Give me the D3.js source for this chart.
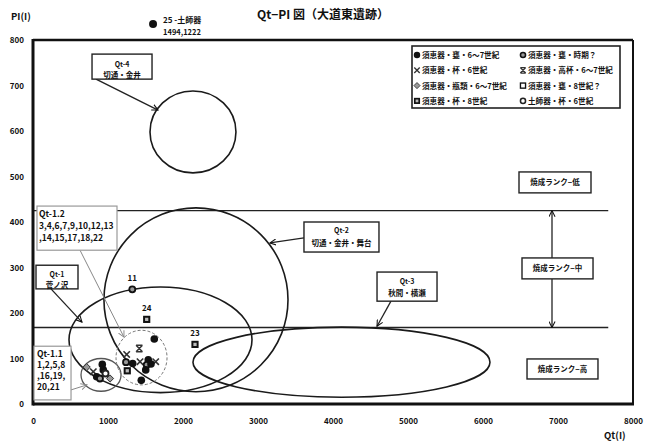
<!DOCTYPE html>
<html><head><meta charset="utf-8">
<script src="https://cdn.jsdelivr.net/npm/d3@7"></script>
<style>
body{margin:0;background:#fff;}
text{font-family:"Noto Sans CJK JP","Noto Sans",sans-serif;font-weight:bold;fill:#111;}
</style></head>
<body><svg id="c" width="647" height="443"></svg>
<script>
// ---- data ----
const xTicks = [0,1000,2000,3000,4000,5000,6000,7000,8000];
const yTicks = [0,100,200,300,400,500,600,700,800];
const legendLabels = ["須恵器・甕・6～7世紀","須恵器・甕・時期？","須恵器・杯・6世紀","須恵器・高杯・6～7世紀","須恵器・瓶類・6～7世紀","須恵器・甕・8世紀？","須恵器・杯・8世紀","土師器・杯・6世紀"];
const legendTypes  = ["filled","ring","x","hx","diamond","sq","sqd","ring2"];
// samples
const pointQt   = [716,924,937,804,849,893,1027,967, 1617,1417,1249,1240,1329,1257,1427,1537,1516,1636,1503,1444,1573, 1324,1516,2160];
const pointPI   = [81,87,75,71,60,56,56,67, 143,122,109,92,89,73,93,97,86,93,75,52,88, 252,186,131];
const pointType = ["diamond","filled","filled","x","filled","ring","diamond","ring2",
                   "filled","hx","x","ring","filled","sqd","x","filled","ring","x","filled","filled","filled",
                   "ring","sqd","sqd"];
const pointLabel = ["","","","","","","","", "","","","","","","","","","","","","", "11","24","23"];
// off-scale sample
const outlierQt = [1494], outlierPI = [1222], outlierLabel = ["25 -土師器"];
// group ellipses (Qt, PI units)
const groupNames = ["Qt-4","Qt-2","Qt-1","Qt-3","Qt-1.1","Qt-1.2"];
const groupCx = [2133,2173,1700,4113,907,1447];
const groupCy = [598,229,141,92,64,102];
const groupRx = [573,1227,1220,1980,267,340];
const groupRy = [90,202,116,77,36,60];
// firing rank boundaries
const rankLines = [425,168];
const rankLabels = ["焼成ランク−低","焼成ランク−中","焼成ランク−高"];

// ---- drawing ----
const svg = d3.select("#c");
const x = d3.scaleLinear().domain([0,8000]).range([33,633]);
const y = d3.scaleLinear().domain([0,800]).range([404,40]);

const defs = svg.append("defs");
defs.append("marker").attr("id","ah").attr("viewBox","0 0 8 8").attr("refX",7).attr("refY",4)
  .attr("markerWidth",7).attr("markerHeight",7).attr("orient","auto-start-reverse").attr("markerUnits","userSpaceOnUse")
  .append("path").attr("d","M0,0.5 L7,4 L0,7.5").attr("fill","none").attr("stroke","#111").attr("stroke-width",1.2);
defs.append("marker").attr("id","ahg").attr("viewBox","0 0 8 8").attr("refX",7).attr("refY",4)
  .attr("markerWidth",7).attr("markerHeight",7).attr("orient","auto").attr("markerUnits","userSpaceOnUse")
  .append("path").attr("d","M0,0.5 L7,4 L0,7.5").attr("fill","none").attr("stroke","#888").attr("stroke-width",1.1);

// title
svg.append("text").attr("x",323).attr("y",19).attr("text-anchor","middle").attr("font-size",12).text("Qt−PI 図（大道東遺跡）");
svg.append("text").attr("x",11).attr("y",20).attr("font-size",9.5).text("PI(I)");
svg.append("text").attr("x",604).attr("y",439).attr("font-size",9.5).text("Qt(I)");

// axes
const gx = svg.append("g").attr("transform",`translate(0,${y(0)})`)
  .call(d3.axisBottom(x).tickValues(xTicks).tickSize(0).tickPadding(14).tickFormat(d3.format("d")));
const gy = svg.append("g").attr("transform",`translate(${x(0)},0)`)
  .call(d3.axisLeft(y).tickValues(yTicks).tickSize(0).tickPadding(9).tickFormat(d3.format("d")));
[gx,gy].forEach(g=>{g.select(".domain").remove();
  g.selectAll("text").attr("font-size",8).attr("font-weight","bold").attr("fill","#111")
   .attr("font-family","'Noto Sans CJK JP',sans-serif");});

// rank lines
svg.selectAll(".rl").data(rankLines).enter().append("line")
  .attr("x1",x(0)).attr("x2",x(7670)).attr("y1",d=>y(d)).attr("y2",d=>y(d))
  .attr("stroke","#222").attr("stroke-width",1.4);

// ellipses
svg.selectAll(".el").data(groupNames).enter().append("ellipse")
  .attr("cx",(d,i)=>x(groupCx[i])).attr("cy",(d,i)=>y(groupCy[i]))
  .attr("rx",(d,i)=>x(groupRx[i])-x(0)).attr("ry",(d,i)=>y(0)-y(groupRy[i]))
  .attr("fill","none")
  .attr("stroke",(d)=>d==="Qt-1.1"?"#555":(d==="Qt-1.2"?"#777":"#1a1a1a"))
  .attr("stroke-width",(d)=>d==="Qt-1.2"?1:(d==="Qt-1.1"?1.3:1.6))
  .attr("stroke-dasharray",d=>d==="Qt-1.2"?"3,2":null);

// frame
const fr = svg.append("g");
fr.append("line").attr("x1",x(0)).attr("x2",x(8000)).attr("y1",y(800)).attr("y2",y(800)).attr("stroke","#111").attr("stroke-width",2.5);
fr.append("line").attr("x1",x(8000)).attr("x2",x(8000)).attr("y1",y(800)).attr("y2",y(0)).attr("stroke","#111").attr("stroke-width",2);
fr.append("line").attr("x1",x(0)).attr("x2",x(8000)+1).attr("y1",y(0)).attr("y2",y(0)).attr("stroke","#111").attr("stroke-width",3);
fr.append("line").attr("x1",x(0)).attr("x2",x(0)).attr("y1",y(800)-1).attr("y2",y(0)+1.5).attr("stroke","#111").attr("stroke-width",3);

// marker drawing
function drawMarker(g, type, cx, cy, s){
  s = s||1;
  if(type==="filled"){ g.append("circle").attr("cx",cx).attr("cy",cy).attr("r",3.8*s).attr("fill","#111"); }
  else if(type==="ring"){ g.append("circle").attr("cx",cx).attr("cy",cy).attr("r",3*s).attr("fill","#999").attr("stroke","#111").attr("stroke-width",1.8*s); }
  else if(type==="ring2"){ g.append("circle").attr("cx",cx).attr("cy",cy).attr("r",3*s).attr("fill","#fff").attr("stroke","#222").attr("stroke-width",1.8*s); }
  else if(type==="x"){ const r=3.2*s;
    g.append("path").attr("d",`M${cx-r},${cy-r}L${cx+r},${cy+r}M${cx-r},${cy+r}L${cx+r},${cy-r}`).attr("stroke","#333").attr("stroke-width",1.6*s); }
  else if(type==="hx"){ const r=3.2*s;
    g.append("path").attr("d",`M${cx-r},${cy-r}L${cx+r},${cy+r}M${cx-r},${cy+r}L${cx+r},${cy-r}M${cx-r},${cy-r}L${cx+r},${cy-r}M${cx-r},${cy+r}L${cx+r},${cy+r}`).attr("stroke","#333").attr("stroke-width",1.5*s); }
  else if(type==="diamond"){ const r=3.6*s;
    g.append("path").attr("d",`M${cx},${cy-r}L${cx+r},${cy}L${cx},${cy+r}L${cx-r},${cy}Z`).attr("fill","#999").attr("stroke","#333").attr("stroke-width",1*s); }
  else if(type==="sq"){ const r=3*s;
    g.append("rect").attr("x",cx-r).attr("y",cy-r).attr("width",2*r).attr("height",2*r).attr("fill","#fff").attr("stroke","#111").attr("stroke-width",1.6*s); }
  else if(type==="sqd"){ const r=3.6*s;
    g.append("rect").attr("x",cx-r).attr("y",cy-r).attr("width",2*r).attr("height",2*r).attr("fill","#111");
    g.append("rect").attr("x",cx-r*0.45).attr("y",cy-r*0.45).attr("width",r*0.9).attr("height",r*0.9).attr("fill","#bbb"); }
}

// points
const gp = svg.append("g");
pointQt.forEach((q,i)=>{
  drawMarker(gp, pointType[i], x(q), y(pointPI[i]));
  if(pointLabel[i]) gp.append("text").attr("x",x(q)).attr("y",y(pointPI[i])-8).attr("text-anchor","middle").attr("font-size",8).text(pointLabel[i]);
});
// outlier (drawn above the frame)
outlierQt.forEach((q,i)=>{
  const cx = x(q)+8, cy = 24;
  drawMarker(gp,"filled",cx,cy,1.05);
  gp.append("text").attr("x",cx+10).attr("y",cy-1).attr("font-size",8).text(outlierLabel[i]);
  gp.append("text").attr("x",cx+10).attr("y",cy+11).attr("font-size",7.5).text(outlierQt[i]+","+outlierPI[i]);
});

// legend
const lg = svg.append("g");
lg.append("rect").attr("x",412).attr("y",46).attr("width",208).attr("height",62).attr("fill","#fff").attr("stroke","#222").attr("stroke-width",1.6);
legendLabels.forEach((t,i)=>{
  const col=i%2, row=Math.floor(i/2);
  const mx = col? 523 : 417, my = 55 + row*15.3;
  drawMarker(lg, legendTypes[i], mx, my, 0.85);
  lg.append("text").attr("x",mx+5).attr("y",my+3).attr("font-size",7.6).text(t);
});

// annotation boxes (data units)
function box(x0,x1,y0,y1,lines,opts){
  opts=opts||{};
  const g=svg.append("g");
  g.append("rect").attr("x",x(x0)).attr("y",y(y0)).attr("width",x(x1)-x(x0)).attr("height",y(y1)-y(y0))
    .attr("fill","#fff").attr("stroke",opts.gray?"#999":"#222").attr("stroke-width",opts.gray?1.2:1.4);
  lines.forEach(l=>{
    g.append("text").attr("x",opts.left?x(opts.left):x((x0+x1)/2)).attr("y",y(l[1])+3)
     .attr("text-anchor",opts.left?"start":"middle").attr("font-size",l[2]||7.5)
     .attr("font-weight",opts.normal?"normal":"bold").text(l[0]);
  });
}
function arrow(x0,y0,x1,y1,gray){
  svg.append("line").attr("x1",x(x0)).attr("y1",y(y0)).attr("x2",x(x1)).attr("y2",y(y1))
    .attr("stroke",gray?"#888":"#222").attr("stroke-width",gray?1:1.3).attr("marker-end",gray?"url(#ahg)":"url(#ah)");
}
arrow(840,714,1667,646);
box(787,1587,769,714,[["Qt-4",747,7],["切通・金井",723,7.5]]);
arrow(3613,365,3160,354);
box(3613,4613,400,334,[["Qt-2",382,7],["切通・金井・舞台",354,7.5]]);
arrow(4773,226,4587,171);
box(4587,5387,290,226,[["Qt-3",270,7],["秋間・横瀬",244,7.5]]);
arrow(627,338,1213,147,true);
box(53,1120,435,338,[["Qt-1.2",418,8.5],["3,4,6,7,9,10,12,13",391,8.5],[",14,15,17,18,22",365,8.5]],{gray:true,left:80,normal:true});
arrow(240,253,653,180);
box(40,600,305,253,[["Qt-1",286,7],["菅ノ沢",262,7.5]]);
arrow(507,31,720,42,true);
box(13,507,127,9,[["Qt-1.1",110,8.5],["1,2,5,8",86,8.5],[",16,19,",62,8.5],["20,21",37,8.5]],{gray:true,left:53,normal:true});

// firing rank
arrow(6920,321,6920,rankLines[0]);
arrow(6920,275,6920,rankLines[1]);
box(6480,7440,510,464,[[rankLabels[0],487,7.5]]);
box(6520,7467,321,275,[[rankLabels[1],298,7.5]]);
box(6587,7533,99,55,[[rankLabels[2],77,7.5]]);
</script></body></html>
